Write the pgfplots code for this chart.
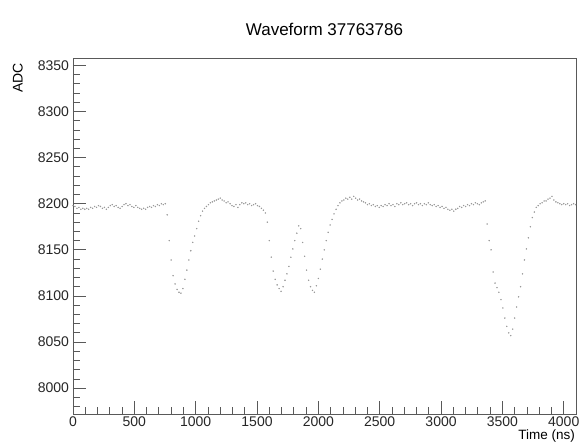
\documentclass[border=0pt]{standalone}
\usepackage{pgfplots}
\pgfplotsset{compat=1.18}
\usepackage{fontspec}
\setmainfont{Liberation Sans}
\begin{document}
\begin{tikzpicture}
\useasboundingbox (-73pt,-28pt) rectangle (508pt,414pt);
\begin{axis}[
  scale only axis, width=503pt, height=356pt,
  xmin=0, xmax=4100, ymin=7972, ymax=8358,
  axis line style={black!65, line width=0.8pt},
  tick align=inside, xtick pos=lower, ytick pos=left,
  xtick={0,500,...,4000}, minor x tick num=4,
  ytick={8000,8050,...,8350}, minor y tick num=4,
  extra y ticks={7980,7990}, extra y tick labels={}, extra y tick style={major tick length=7pt},
  major tick length=13pt, minor tick length=7pt,
  tick style={black!65, line width=0.8pt},
  /pgf/number format/assume math mode=true,
  /pgf/number format/1000 sep={},
  ticklabel style={font=\fontsize{14}{16}\selectfont, text=black!85},
  yticklabel style={xshift=-0.5pt},
  xticklabel style={yshift=1pt},
  title={Waveform 37763786},
  title style={font=\fontsize{17}{19}\selectfont, yshift=13pt},
  ylabel={ADC},
  ylabel style={font=\fontsize{14}{16}\selectfont, at={(axis description cs:-0.093,0.995)}, anchor=south east},
  xlabel={Time (ns)},
  xlabel style={font=\fontsize{13.5}{15}\selectfont, inner sep=1pt, at={(axis description cs:1,-0.04)}, anchor=north east},
]
\addplot[only marks, mark=*, mark size=0.5pt, color=black!40] coordinates {
(0,8198)(16,8197)(32,8195)(48,8196)(64,8194)(80,8195)(96,8194)(112,8195)(128,8194)(144,8196)
(160,8195)(176,8197)(192,8196)(208,8198)(224,8197)(240,8195)(256,8196)(272,8194)(288,8196)(304,8198)
(320,8199)(336,8197)(352,8198)(368,8196)(384,8195)(400,8197)(416,8199)(432,8200)(448,8198)(464,8199)
(480,8197)(496,8196)(512,8198)(528,8196)(544,8195)(560,8194)(576,8195)(592,8194)(608,8196)(624,8197)
(640,8196)(656,8198)(672,8197)(688,8199)(704,8198)(720,8200)(736,8199)(752,8200)
(768,8188)(784,8160)(800,8139)(816,8122)(832,8113)(848,8107)(864,8104)(880,8103)(896,8108)(912,8118)
(928,8128)(944,8139)(960,8149)(976,8158)(992,8165)(1008,8173)(1024,8181)(1040,8187)(1056,8192)(1072,8195)
(1088,8197)(1104,8199)(1120,8201)(1136,8202)(1152,8203)(1168,8204)(1184,8205)(1200,8206)(1216,8204)(1232,8203)
(1248,8201)(1264,8202)(1280,8200)(1296,8198)(1312,8197)(1328,8199)(1344,8196)(1360,8199)(1376,8201)(1392,8200)
(1408,8201)(1424,8199)(1440,8200)(1456,8198)(1472,8199)(1488,8200)(1504,8198)(1520,8197)(1536,8195)(1552,8193)
(1568,8190)
(1584,8180)(1600,8160)(1616,8142)(1632,8127)(1648,8118)(1664,8112)(1680,8108)(1696,8105)(1712,8110)(1728,8117)
(1744,8124)(1760,8132)(1776,8142)(1792,8151)(1808,8160)(1824,8168)(1840,8176)(1856,8173)(1872,8158)(1888,8143)
(1904,8128)(1920,8117)(1936,8110)(1952,8106)(1968,8104)(1984,8111)(2000,8119)(2016,8129)(2032,8140)(2048,8150)
(2064,8160)(2080,8169)(2096,8177)(2112,8183)(2128,8189)(2144,8194)(2160,8198)(2176,8201)(2192,8203)(2208,8204)
(2224,8206)(2240,8205)(2256,8207)(2272,8205)(2288,8208)(2304,8206)(2320,8204)(2336,8205)(2352,8203)(2368,8202)
(2384,8201)(2400,8199)(2416,8200)(2432,8198)(2448,8199)(2464,8197)(2480,8198)(2496,8196)(2512,8198)(2528,8197)
(2544,8199)(2560,8198)(2576,8200)(2592,8198)(2608,8199)(2624,8197)(2640,8200)(2656,8199)(2672,8201)(2688,8199)
(2704,8200)(2720,8201)(2736,8199)(2752,8200)(2768,8198)(2784,8200)(2800,8201)(2816,8199)(2832,8200)(2848,8198)
(2864,8200)(2880,8199)(2896,8201)(2912,8199)(2928,8198)(2944,8199)(2960,8197)(2976,8198)(2992,8196)(3008,8197)
(3024,8195)(3040,8196)(3056,8194)(3072,8193)(3088,8194)(3104,8192)(3120,8194)(3136,8195)(3152,8197)(3168,8196)
(3184,8198)(3200,8197)(3216,8199)(3232,8198)(3248,8200)(3264,8199)(3280,8201)(3296,8200)(3312,8199)(3328,8201)
(3344,8202)(3360,8203)
(3376,8178)(3392,8160)(3408,8150)(3424,8126)(3440,8114)(3456,8109)(3472,8104)(3488,8096)(3504,8087)(3520,8076)
(3536,8067)(3552,8060)(3568,8057)(3584,8064)(3600,8076)(3616,8088)(3632,8099)(3648,8110)(3664,8124)(3680,8139)
(3696,8151)(3712,8163)(3728,8175)(3744,8185)(3760,8191)(3776,8196)(3792,8198)(3808,8200)(3824,8201)(3840,8203)
(3856,8203)(3872,8205)(3888,8206)(3904,8208)(3920,8204)(3936,8202)(3952,8201)(3968,8200)(3984,8199)(4000,8200)
(4016,8199)(4032,8200)(4048,8198)(4064,8199)(4080,8200)(4096,8199)
};
\end{axis}
\end{tikzpicture}
\end{document}
